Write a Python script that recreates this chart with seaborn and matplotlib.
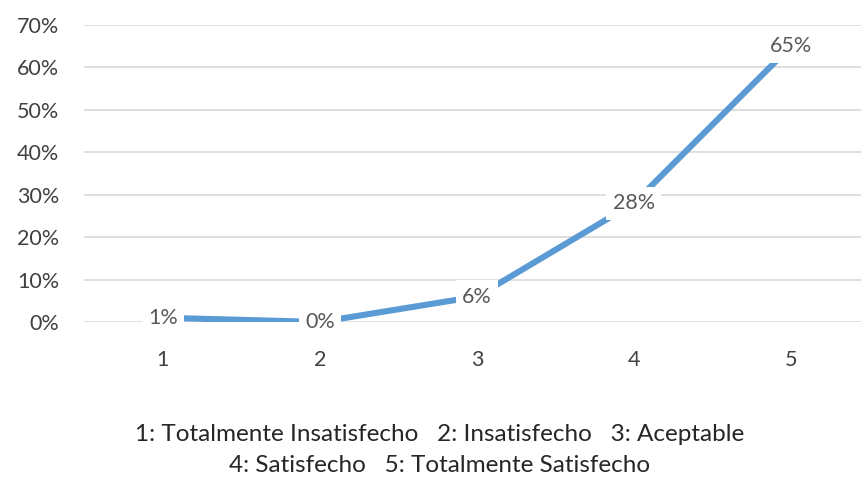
import pandas as pd
import numpy as np
import matplotlib.pyplot as plt
import seaborn as sns

# data
categories = [1, 2, 3, 4, 5]
percentages = [1, 0, 6, 28, 65]
y_ticks = [0, 10, 20, 30, 40, 50, 60, 70]
caption_line1 = "1: Totalmente Insatisfecho   2: Insatisfecho   3: Aceptable"
caption_line2 = "4: Satisfecho   5: Totalmente Satisfecho"

df = pd.DataFrame({'nivel': categories, 'pct': percentages})

sns.set_style('white')
plt.rcParams['font.family'] = ['Lato', 'DejaVu Sans']

fig = plt.figure(figsize=(8.61, 4.79), dpi=100)
ax = fig.add_axes([0.0981, 0.3278, 0.9117, 0.62])

sns.lineplot(data=df, x='nivel', y='pct', color='#5B9BD5', linewidth=4.4,
             solid_capstyle='butt', ax=ax, zorder=3)

# data labels with white background, centred on the points
for x, y in zip(df['nivel'], df['pct']):
    ax.text(x, y, f"{y}%", ha='center', va='center', fontsize=15.5,
            color='#595959', zorder=4,
            bbox=dict(boxstyle='square,pad=0.3', facecolor='white', edgecolor='none'))

ax.set_xlim(0.5, 5.5)
ax.set_ylim(0, 70)
ax.set_yticks(y_ticks)
ax.set_yticklabels([f"{t}%" for t in y_ticks])
ax.set_xticks(categories)
ax.set_xticklabels([str(c) for c in categories])
ax.yaxis.grid(True, color='#D9D9D9', linewidth=1.2)
ax.set_axisbelow(True)
ax.tick_params(axis='both', length=0, labelsize=15.5, labelcolor='#404040')
ax.tick_params(axis='x', pad=20)
ax.tick_params(axis='y', pad=18)
ax.set_xlabel('')
ax.set_ylabel('')
for s in ax.spines.values():
    s.set_visible(False)

fig.text(0.511, 0.092, caption_line1, ha='center', va='center', fontsize=17.5, color='#262626')
fig.text(0.511, 0.029, caption_line2, ha='center', va='center', fontsize=17.5, color='#262626')

fig.savefig('out.png', dpi=100)
